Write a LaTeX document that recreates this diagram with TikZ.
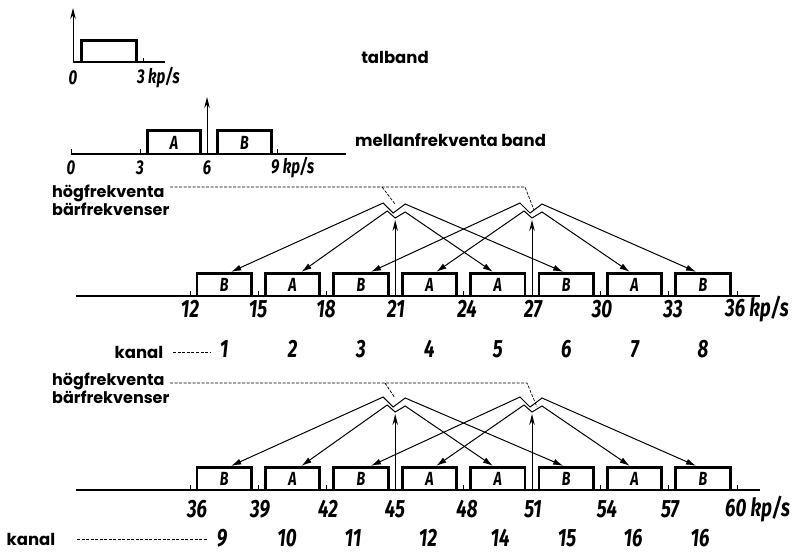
\documentclass[tikz,border=0pt]{standalone}
\usepackage{fontspec}
\setmainfont{Poppins}
\newfontfamily\numfont[FakeStretch=0.75]{Fira Sans}
\usetikzlibrary{arrows.meta,positioning}

\tikzset{
  axis/.style={line width=1.3pt},
  ticks/.style={line width=0.8pt},
  boxline/.style={line width=2.8pt,line join=miter},
  band/.style={minimum width=54pt,minimum height=22pt,inner sep=0pt,
    font=\numfont\bfseries\itshape\fontsize{19}{19}\selectfont},
  feed/.style={line width=1pt,
    {Latex[length=10pt,width=6pt]}-{Latex[length=10pt,width=6pt]}},
  carrier/.style={line width=1pt,-{Stealth[length=11pt,width=5.5pt]}},
  hf/.style={line width=0.7pt,dash pattern=on 3pt off 1.5pt},
  num/.style={inner sep=0pt,font=\numfont\bfseries\itshape\fontsize{25}{25}\selectfont},
  smallnum/.style={inner sep=0pt,font=\numfont\bfseries\itshape\fontsize{20}{20}\selectfont},
  lbl/.style={inner sep=0pt,font=\bfseries\fontsize{16.5}{16.5}\selectfont},
  twolbl/.style={inner sep=0pt,align=left,font=\bfseries\fontsize{16}{16}\selectfont}
}

\begin{document}
\begin{tikzpicture}[x=1pt,y=-1pt]
\useasboundingbox (0,0) rectangle (799,554);

% talband
\begin{scope}
\coordinate (o1) at (73,62);
\coordinate (e1) at (165,62);
\draw[axis] (e1) -- (o1);
\draw[carrier] (o1) -- (73,8);
\node[band,minimum width=54pt,minimum height=21pt] (tb) at (109,51.5) {};
\draw[boxline] (tb.south west) |- (tb.north east) -- (tb.south east);
\draw[ticks] (143,62) -- (143,58);
\node[smallnum] (n0) at (73,78) {0};
\node[smallnum,anchor=west] (n3) at (137,78) {3\,kp/s};
\node[lbl] (talband) at (395,57) {talband};
\end{scope}

% mellanfrekventa band
\begin{scope}
\coordinate (o2) at (71,154);
\coordinate (e2) at (346,154);
\coordinate (f6) at (207,154);
\draw[axis] (o2) -- (e2);
\draw[carrier] (f6) -- (207,97);
\foreach \x in {71,140,277}
  \draw[ticks] (\x,154) -- (\x,149);
\node[band,minimum width=52pt,minimum height=23pt] (ma) at (174,142.5) {A};
\node[band,minimum width=53pt,minimum height=23pt] (mb) at (244.5,142.5) {B};
\draw[boxline] (ma.south west) |- (ma.north east) -- (ma.south east);
\draw[boxline] (mb.south west) |- (mb.north east) -- (mb.south east);
\node[smallnum] (m0) at (71,168) {0};
\node[smallnum] (m3) at (140,168) {3};
\node[smallnum] (m6) at (207,168) {6};
\node[smallnum,anchor=west] (m9) at (271,168) {9\,kp/s};
\node[lbl,anchor=west] (mellan) at (355,140) {mellanfrekventa band};
\end{scope}

% kanal 1--8
\begin{scope}
\coordinate (o3) at (76,296);
\coordinate (e3) at (760,296);
\draw[axis] (o3) -- (e3);
\foreach \x in {190,258.4,326.8,463.6,600.4,668.8,737.2}
  \draw[ticks] (\x,296) -- (\x,291);
\foreach \i/\t/\s in {1/B/7,2/A/9,3/B/10,4/A/7,5/A/-5,6/B/-3,7/A/-5,8/B/-7}{
  \node[band] (u\i) at ({155.8+68.4*\i},285) {\t};
  \draw[boxline] (u\i.south west) |- (u\i.north east) -- (u\i.south east);
  \coordinate (ut\i) at ([xshift=\s pt,yshift=2pt]u\i.north);
}
\foreach \c/\n/\a/\b/\p/\q in {395.2/21/1/2/5/6, 532/27/3/4/7/8}{
  \coordinate (uf\n) at (\c,296);
  \coordinate (ul\n) at (\c-12,203);
  \coordinate (uv\n) at (\c-2,213);
  \coordinate (ur\n) at (\c+10,204);
  \coordinate (ll\n) at (\c-8,211);
  \coordinate (lv\n) at (\c,218);
  \coordinate (lr\n) at (\c+10,212);
  \draw[feed] (ut\a) -- (ul\n) -- (uv\n) -- (ur\n) -- (ut\q);
  \draw[feed] (ut\b) -- (ll\n) -- (lv\n) -- (lr\n) -- (ut\p);
  \draw[carrier] (uf\n) -- (\c,220);
}
\node[twolbl,anchor=north west] (hfu) at (52,185) {högfrekventa\\bärfrekvenser};
\coordinate (hfu0) at (170,187);
\coordinate (d21a) at (382,187);
\coordinate (d21b) at (395,204);
\coordinate (d27a) at (525,187);
\coordinate (d27b) at (534,210);
\draw[hf] (hfu0) -- (d27a) -- (d27b);
\draw[hf] (d21a) -- (d21b);
\foreach \x/\k in {190/12,258/15,326/18,396/21,467/24,533/27,602/30,673/33}
  \node[num] (uk\k) at (\x,309) {\k};
\node[num,anchor=west] (uk36) at (725,309) {36\,kp/s};
\node[lbl] (kanalu) at (139,352) {kanal};
\foreach \i in {1,...,8}
  \node[num] (k\i) at ({155.8+68.4*\i},349) {\i};
\draw[hf] ([xshift=10pt]kanalu.east) -- ([xshift=-10pt]k1.west |- kanalu.east);
\end{scope}

% kanal 9--16
\begin{scope}
\coordinate (o4) at (76,490);
\coordinate (e4) at (760,490);
\draw[axis] (o4) -- (e4);
\foreach \x in {190,258.4,326.8,463.6,600.4,668.8,737.2}
  \draw[ticks] (\x,490) -- (\x,485);
\foreach \i/\t/\s in {1/B/7,2/A/9,3/B/10,4/A/7,5/A/-5,6/B/-3,7/A/-5,8/B/-7}{
  \node[band] (l\i) at ({155.8+68.4*\i},479) {\t};
  \draw[boxline] (l\i.south west) |- (l\i.north east) -- (l\i.south east);
  \coordinate (lt\i) at ([xshift=\s pt,yshift=2pt]l\i.north);
}
\foreach \c/\n/\a/\b/\p/\q in {395.2/45/1/2/5/6, 532/51/3/4/7/8}{
  \coordinate (lf\n) at (\c,490);
  \coordinate (ul\n) at (\c-12,397);
  \coordinate (uv\n) at (\c-2,407);
  \coordinate (ur\n) at (\c+10,398);
  \coordinate (ll\n) at (\c-8,405);
  \coordinate (lv\n) at (\c,412);
  \coordinate (lr\n) at (\c+10,406);
  \draw[feed] (lt\a) -- (ul\n) -- (uv\n) -- (ur\n) -- (lt\q);
  \draw[feed] (lt\b) -- (ll\n) -- (lv\n) -- (lr\n) -- (lt\p);
  \draw[carrier] (lf\n) -- (\c,414);
}
\node[twolbl,anchor=north west] (hfl) at (52,373) {högfrekventa\\bärfrekvenser};
\coordinate (hfl0) at (170,383);
\coordinate (d45a) at (385,383);
\coordinate (d45b) at (395,398);
\coordinate (d51a) at (527,383);
\coordinate (d51b) at (537,407);
\draw[hf] (hfl0) -- (d51a) -- (d51b);
\draw[hf] (d45a) -- (d45b);
\foreach \x/\k in {197/36,260/39,328/42,395/45,467/48,533/51,607/54,670/57}
  \node[num] (lk\k) at (\x,509) {\k};
\node[num,anchor=west] (lk60) at (725,509) {60\,kp/s};
\node[lbl] (kanall) at (31,539) {kanal};
\foreach \i/\m/\x in {1/9/222,2/10/287,3/11/353,4/12/428,5/14/500,6/15/567,7/16/633,8/16/700}
  \node[num] (k\m\i) at (\x,538) {\m};
\draw[hf] ([xshift=22pt]kanall.east) -- ([xshift=-10pt]k91.west |- kanall.east);
\end{scope}
\end{tikzpicture}
\end{document}
